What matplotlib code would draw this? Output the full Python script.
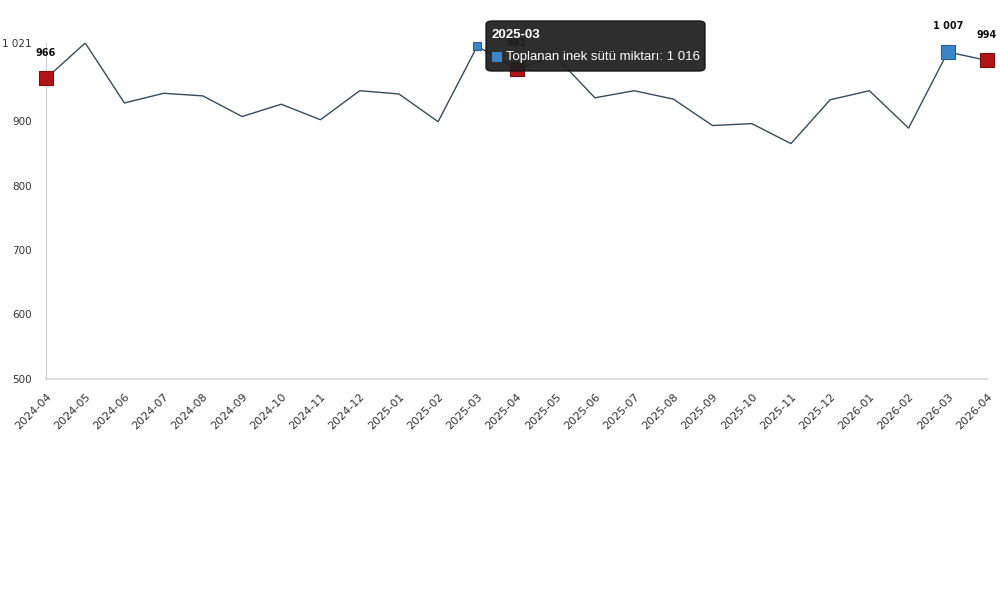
import matplotlib.pyplot as plt
from matplotlib.patches import FancyBboxPatch

months = ["2024-04", "2024-05", "2024-06", "2024-07", "2024-08", "2024-09",
          "2024-10", "2024-11", "2024-12", "2025-01", "2025-02", "2025-03",
          "2025-04", "2025-05", "2025-06", "2025-07", "2025-08", "2025-09",
          "2025-10", "2025-11", "2025-12", "2026-01", "2026-02", "2026-03",
          "2026-04"]
milk = [966, 1021, 928, 943, 939, 907, 926, 902, 947, 942, 899, 1016,
        981, 1000, 936, 947, 934, 893, 896, 865, 933, 947, 889, 1007, 994]

april_months = ["2024-04", "2025-04", "2026-04"]
march_months = ["2025-03", "2026-03"]
labelled = ["2024-04", "2025-04", "2026-03", "2026-04"]
hover_month = "2025-03"
series_name = "Toplanan inek sütü miktarı"
y_ticks = [500, 600, 700, 800, 900, 1021]


def fmt(v):
    return f"{v:,}".replace(",", " ")


fig = plt.figure(figsize=(10, 5.93), dpi=100)
ax = fig.add_axes([0.046, 0.3609, 0.941, 0.5666])

x = list(range(len(months)))
ax.plot(x, milk, color="#3a4b5a", linewidth=1.0, zorder=2)

for m in april_months:
    i = months.index(m)
    ax.plot(i, milk[i], marker="s", markersize=9.5, color="#b01515",
            markeredgecolor="#7d0e0e", markeredgewidth=0.8, zorder=3,
            clip_on=False)
for m in march_months:
    i = months.index(m)
    size = 6 if m == hover_month else 9.5
    ax.plot(i, milk[i], marker="s", markersize=size, color="#3c86c8",
            markeredgecolor="#2b5f8f", markeredgewidth=0.8, zorder=3,
            clip_on=False)

for m in labelled:
    i = months.index(m)
    ax.annotate(fmt(milk[i]), (i, milk[i]), xytext=(0, 15),
                textcoords="offset points", ha="center", va="bottom",
                fontsize=7, fontweight="bold", color="#111111", zorder=4,
                annotation_clip=False)

ax.set_xlim(0, len(months) - 1)
ax.set_ylim(500, 1021)
ax.set_xticks(x)
ax.set_xticklabels(months, rotation=45, ha="right", va="top",
                   rotation_mode="anchor", fontsize=8, color="#333333")
ax.set_yticks(y_ticks)
ax.set_yticklabels([fmt(t) for t in y_ticks], fontsize=7.5, color="#333333")
ax.tick_params(axis="x", length=0, pad=9)
ax.tick_params(axis="y", length=0, pad=10)

for side in ["top", "right"]:
    ax.spines[side].set_visible(False)
ax.spines["left"].set_color("#cccccc")
ax.spines["bottom"].set_color("#d8d8d8")
ax.spines["bottom"].set_linewidth(1.2)

# tooltip for the hovered point
i = months.index(hover_month)
tip_font = ["Liberation Sans", "DejaVu Sans"]
box = FancyBboxPatch((486 / 1000, 1 - 71 / 593), 219 / 1000, 50 / 593,
                     boxstyle="round,pad=0,rounding_size=0.006",
                     transform=fig.transFigure, facecolor="#1e1e1e",
                     edgecolor="#111111", alpha=0.93, zorder=10)
fig.patches.append(box)
fig.text(491 / 1000, 1 - 35 / 593, months[i], fontsize=9.5, fontweight="bold",
         color="white", va="center", family=tip_font, zorder=11)
fig.patches.append(FancyBboxPatch((492 / 1000, 1 - 62 / 593), 10 / 1000, 10 / 593,
                                  boxstyle="square,pad=0", transform=fig.transFigure,
                                  facecolor="#3c86c8", edgecolor="none", zorder=11))
fig.text(506 / 1000, 1 - 57 / 593, f"{series_name}: {fmt(milk[i])}",
         fontsize=9.5, color="white", va="center", family=tip_font, zorder=11)

fig.savefig("out.png", dpi=100)
